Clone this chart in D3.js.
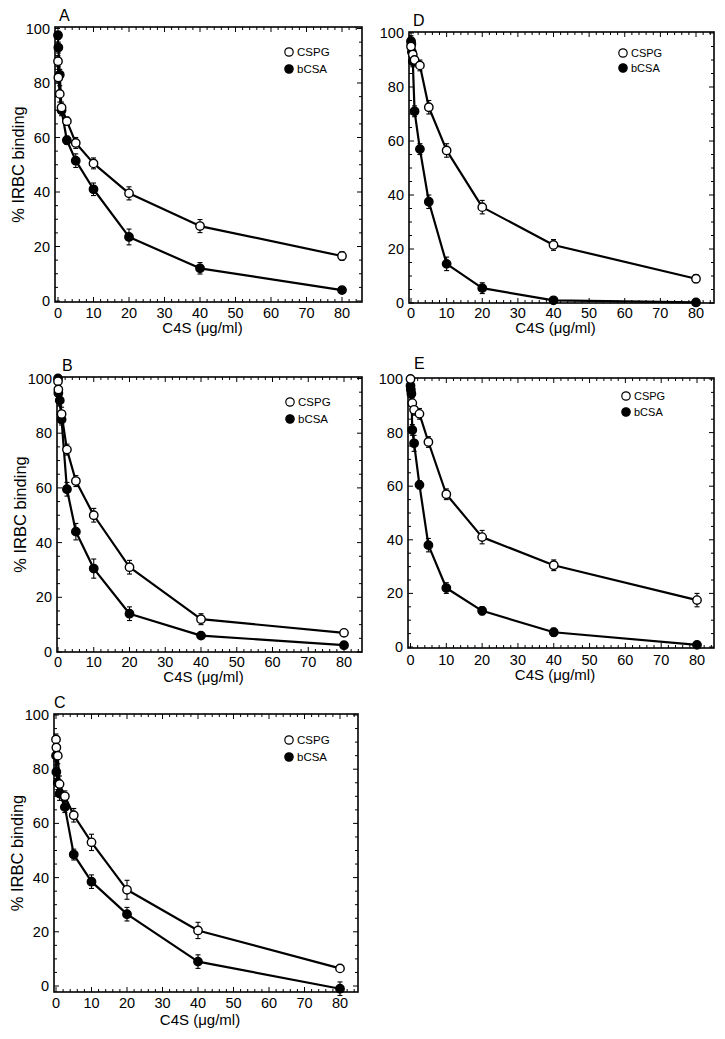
<!DOCTYPE html>
<html>
<head>
<meta charset="utf-8">
<script src="https://cdn.jsdelivr.net/npm/d3@7"></script>
<style>
  html, body { margin: 0; padding: 0; background: #fff; }
  svg { display: block; }
  text { font-family: "Liberation Sans", Arial, Helvetica, sans-serif; fill: #000; }
</style>
</head>
<body>
<svg id="chart" width="725" height="1039"></svg>
<script>
// ---- Data ----
const doses = [0, 0.1, 0.25, 0.5, 1, 2.5, 5, 10, 20, 40, 80];
const xTickLabels = [0, 10, 20, 30, 40, 50, 60, 70, 80];
const yTickLabels = [0, 20, 40, 60, 80, 100];
const seriesNames = ["CSPG", "bCSA"];

// Panel A
const aCSPG    = [88, 82, null, 76, 71, 66, 58, 50.5, 39.5, 27.5, 16.5];
const aCSPGErr = [2, 2, 0, 3, 2, 1.5, 2, 2, 2.4, 2.4, 1.6];
const aBCSA    = [97.5, 93, null, 83, 70, 59, 51.5, 41, 23.5, 12, 4];
const aBCSAErr = [1.5, 2, 0, 2, 2, 1.5, 2.5, 2.3, 2.9, 2.1, 0.5];
// Panel D
const dCSPG    = [95, null, null, 92, 90, 88, 72.5, 56.5, 35.5, 21.5, 9];
const dCSPGErr = [2, 0, 0, 2, 2, 2, 2.5, 2.5, 2.5, 2, 1.5];
const dBCSA    = [97, 96, 93, 89.5, 71, 57, 37.5, 14.5, 5.5, 1, 0.2];
const dBCSAErr = [2, 1.5, 2, 2, 2, 2, 2.5, 2.5, 2, 0.5, 0.3];
// Panel B
const bCSPG    = [99, 96, null, null, 87, 74, 62.5, 50, 31, 12, 7];
const bCSPGErr = [1.5, 2, 0, 0, 2.5, 2, 2, 2.5, 2.5, 2, 1];
const bBCSA    = [100, 94.7, null, 92, 85, 59.5, 44, 30.5, 14, 6, 2.5];
const bBCSAErr = [1, 2, 0, 2, 2, 2.5, 3, 3.5, 2.5, 1, 0.5];
// Panel E
const eCSPG    = [100, null, null, 91, 88.5, 87, 76.5, 57, 41, 30.5, 17.5];
const eCSPGErr = [1, 0, 0, 2, 2, 2, 2, 2, 2.5, 2, 2.5];
const eBCSA    = [97.5, 96, 94.5, 81, 76, 60.5, 38, 22, 13.5, 5.5, 0.8];
const eBCSAErr = [1.5, 1.5, 2, 2, 3, 1.5, 2.5, 2, 1.5, 1.5, 0.5];
// Panel C
const cCSPG    = [91, 88, null, 85, 74.5, 70, 63, 53, 35.5, 20.5, 6.5];
const cCSPGErr = [2, 2, 0, 3, 3, 2, 2.5, 3, 3.5, 3, 1];
const cBCSA    = [85, 79, null, 75, 71, 66, 48.5, 38.5, 26.5, 9, -1];
const cBCSAErr = [2, 2.5, 0, 2.5, 2.5, 2, 2, 2.5, 2.5, 2.5, 2.5];

// ---- Layout (pixels) ----
const panels = [
  { letter: "A", open: [aCSPG, aCSPGErr], filled: [aBCSA, aBCSAErr],
    frame: {l: 55, t: 27, r: 362, b: 302}, x0: 58, x80: 342, y0: 301, y100: 28.5,
    yTitle: true, letterXY: [59, 21], tickBase: 318, titleBase: 333, legend: [289, 52, 17], legFont: 11.5 },
  { letter: "D", open: [dCSPG, dCSPGErr], filled: [dBCSA, dBCSAErr],
    frame: {l: 409, t: 32, r: 714, b: 303}, x0: 411, x80: 696, y0: 303, y100: 33,
    yTitle: false, letterXY: [413, 26], tickBase: 318, titleBase: 333, legend: [623, 53, 15], legFont: 11 },
  { letter: "B", open: [bCSPG, bCSPGErr], filled: [bBCSA, bBCSAErr],
    frame: {l: 57, t: 377, r: 362, b: 652}, x0: 58, x80: 344, y0: 652, y100: 378.5,
    yTitle: true, letterXY: [62, 371], tickBase: 667, titleBase: 682, legend: [290, 402, 17], legFont: 11.5 },
  { letter: "E", open: [eCSPG, eCSPGErr], filled: [eBCSA, eBCSAErr],
    frame: {l: 408, t: 378, r: 714, b: 648}, x0: 410.5, x80: 697, y0: 647, y100: 379,
    yTitle: false, letterXY: [414, 369], tickBase: 665, titleBase: 680, legend: [626, 396, 16], legFont: 11 },
  { letter: "C", open: [cCSPG, cCSPGErr], filled: [cBCSA, cBCSAErr],
    frame: {l: 54, t: 714, r: 358, b: 992}, x0: 56, x80: 340, y0: 986, y100: 715,
    yTitle: true, letterXY: [54, 708], tickBase: 1008, titleBase: 1025, legend: [289, 740, 17], legFont: 11.5 }
];

const svg = d3.select("#chart");

panels.forEach(p => {
  const f = p.frame;
  const x = d3.scaleLinear().domain([0, 80]).range([p.x0, p.x80]);
  const y = d3.scaleLinear().domain([0, 100]).range([p.y0, p.y100]);
  const g = svg.append("g");

  const xMax = x.invert(f.r), yMax = y.invert(f.t), yMin = y.invert(f.b);
  const xMinor = d3.range(0, xMax, 2);
  const yMinor = d3.range(Math.ceil(yMin / 5) * 5, yMax + 0.01, 5);

  // inward ticks on all four sides
  const xt = g.append("g").attr("stroke", "#000").attr("stroke-width", 1);
  xMinor.forEach(v => {
    const L = v % 10 === 0 ? 5 : 3;
    xt.append("line").attr("x1", x(v)).attr("x2", x(v)).attr("y1", f.b).attr("y2", f.b - L);
    xt.append("line").attr("x1", x(v)).attr("x2", x(v)).attr("y1", f.t).attr("y2", f.t + L);
  });
  yMinor.forEach(v => {
    const L = v % 20 === 0 ? 5 : 3;
    xt.append("line").attr("y1", y(v)).attr("y2", y(v)).attr("x1", f.l).attr("x2", f.l + L);
    xt.append("line").attr("y1", y(v)).attr("y2", y(v)).attr("x1", f.r).attr("x2", f.r - L);
  });

  // frame
  g.append("rect").attr("x", f.l).attr("y", f.t).attr("width", f.r - f.l).attr("height", f.b - f.t)
    .attr("fill", "none").attr("stroke", "#000").attr("stroke-width", 1.6);

  // tick labels
  g.append("g").selectAll("text").data(xTickLabels).join("text")
    .attr("x", d => x(d)).attr("y", p.tickBase).attr("text-anchor", "middle")
    .attr("font-size", 14.5).text(d => d);
  g.append("g").selectAll("text").data(yTickLabels).join("text")
    .attr("x", f.l - 5).attr("y", d => y(d)).attr("dy", "0.35em").attr("text-anchor", "end")
    .attr("font-size", 14.5).text(d => d);

  // titles
  g.append("text").attr("x", (f.l + f.r) / 2 - 6).attr("y", p.titleBase).attr("text-anchor", "middle")
    .attr("font-size", 15).text("C4S (\u03bcg/ml)");
  if (p.yTitle) {
    g.append("text").attr("transform", `translate(${f.l - 31},${(f.t + f.b) / 2}) rotate(-90)`)
      .attr("text-anchor", "middle").attr("font-size", 16.5).text("% IRBC binding");
  }
  g.append("text").attr("x", p.letterXY[0]).attr("y", p.letterXY[1]).attr("font-size", 16).text(p.letter);

  // series
  const line = d3.line().x(d => x(d.d)).y(d => y(d.v));
  const mk = (vals, errs) => doses.map((d, i) => ({d, v: vals[i], e: errs[i]})).filter(o => o.v !== null);
  const sets = [
    {pts: mk(p.filled[0], p.filled[1]), fill: "#000"},
    {pts: mk(p.open[0], p.open[1]), fill: "#fff"}
  ];
  sets.forEach(s => {
    g.append("path").datum(s.pts).attr("d", line).attr("fill", "none")
      .attr("stroke", "#000").attr("stroke-width", 2.2).attr("stroke-linejoin", "round");
  });
  sets.forEach(s => {
    const eb = g.append("g").attr("stroke", "#000").attr("stroke-width", 1.1);
    s.pts.filter(o => o.e > 0).forEach(o => {
      eb.append("line").attr("x1", x(o.d)).attr("x2", x(o.d)).attr("y1", y(o.v - o.e)).attr("y2", y(o.v + o.e));
      [o.v - o.e, o.v + o.e].forEach(v => {
        eb.append("line").attr("x1", x(o.d) - 2.5).attr("x2", x(o.d) + 2.5).attr("y1", y(v)).attr("y2", y(v));
      });
    });
  });
  sets.forEach(s => {
    g.append("g").selectAll("circle").data(s.pts).join("circle")
      .attr("cx", o => x(o.d)).attr("cy", o => y(o.v)).attr("r", 4.2)
      .attr("fill", s.fill).attr("stroke", "#000").attr("stroke-width", 1.4);
  });

  // legend
  const [lx, ly, ldy] = p.legend;
  seriesNames.forEach((name, i) => {
    g.append("circle").attr("cx", lx).attr("cy", ly + i * ldy).attr("r", 4.2)
      .attr("fill", i === 0 ? "#fff" : "#000").attr("stroke", "#000").attr("stroke-width", 1.2);
    g.append("text").attr("x", lx + 8).attr("y", ly + i * ldy).attr("dy", "0.36em")
      .attr("font-size", p.legFont).text(name);
  });
});
</script>
</body>
</html>
